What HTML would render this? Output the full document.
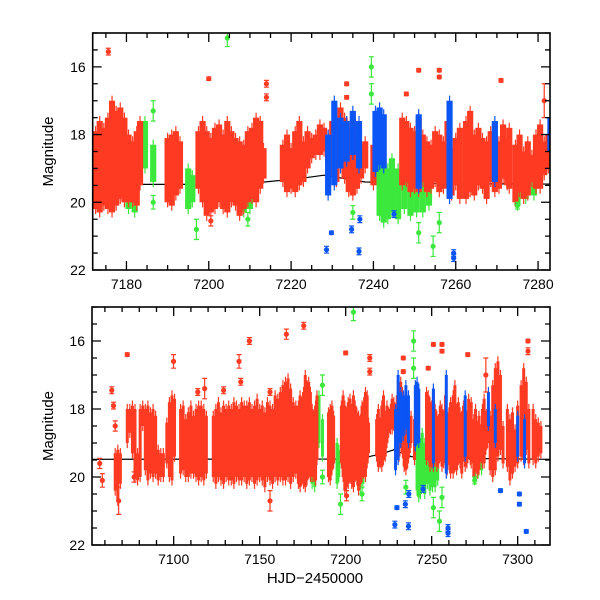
<!DOCTYPE html>
<html><head><meta charset="utf-8"><style>
html,body{margin:0;padding:0;background:#fff}
svg{display:block}
text{font-family:"Liberation Sans",sans-serif;fill:#000}
</style></head><body>
<svg id="chart" width="600" height="600" viewBox="0 0 600 600">
<g id="p1"></g>
<g id="p2"></g>
<text x="315" y="583" font-size="15" text-anchor="middle">HJD−2450000</text>
</svg>
<script>
// Dense clusters: [day, brightest mag, faintest mag]
const redRanges=[[7066,19.3,20.4],[7067.5,19.2,20.7],[7069,19.3,20.2],
[7073,18.0,19.0],[7074.5,18.0,18.7],[7076,17.9,19.3],[7077.5,18.0,20.0],[7079,19.3,20.1],[7080.5,18.0,20.0],[7082,17.9,18.5],[7083.5,18.0,19.8],[7085,17.9,20.1],[7086.5,18.1,19.9],[7088,18.0,20.0],[7089.5,18.2,19.9],[7091,19.2,20.1],[7092.5,19.3,20.0],[7094,19.3,20.0],
[7096,18.4,19.6],[7097.5,17.8,20.0],[7099,17.6,20.1],[7100.5,17.7,19.4],
[7104,18.0,19.9],[7105.5,17.9,19.8],[7107,18.3,20.0],[7108.5,18.1,20.0],[7110,17.9,19.9],[7111.5,18.2,19.9],[7113,18.0,20.0],[7114.5,17.9,20.1],[7116,17.9,20.0],[7117.5,18.0,20.1],[7119,18.2,19.9],
[7123,18.2,20.0],[7124.5,18.0,20.2],[7126,17.8,20.0],[7127.5,18.1,20.1],[7129,17.9,20.2],[7130.5,18.0,20.0],[7132,17.9,20.1],[7133.5,18.0,20.1],[7135,17.8,20.2],[7136.5,17.9,20.0],[7138,18.0,20.1],[7139.5,17.8,20.1],[7141,17.9,20.0],[7142.5,17.9,20.2],[7144,17.8,20.1],[7145.5,18.0,20.0],[7147,17.9,20.2],[7148.5,17.7,20.1],[7150,18.0,20.0],[7151.5,17.9,20.1],[7153,18.1,20.3],[7154.5,17.8,20.0],[7156,17.9,20.1],[7157.5,18.0,20.2],[7159,17.6,20.0],[7160.5,17.7,20.1],[7162,17.5,20.0],[7163.5,17.3,20.1],[7165,17.2,20.1],[7166.5,17.1,20.0],[7168,17.4,20.2],[7169.5,17.8,20.0],[7171,17.9,19.9],
[7172.5,17.9,20.2],[7173.5,17.6,20.3],[7174.5,17.8,20.1],[7175.5,17.5,20.2],[7176.5,17.0,20.3],[7177.5,17.3,20.1],[7178.5,17.2,19.9],[7179.5,17.5,20.0],[7180.5,18.0,20.0],[7181.5,18.2,20.0],[7182.5,17.9,20.1],[7183.3,17.6,19.5],
[7190,18.1,20.0],[7191,18.0,20.1],[7192,17.9,19.8],[7193,18.2,19.6],
[7197.5,17.9,19.6],[7198.5,17.6,20.0],[7199.5,17.9,20.4],[7200.5,18.1,20.3],[7201.5,17.8,20.2],[7202.5,17.7,20.0],[7203.5,18.0,20.2],[7204.5,17.6,20.3],[7205.5,17.9,20.0],[7206.5,18.1,20.1],[7207.5,18.2,20.4],[7208.5,18.3,20.2],[7209.5,17.9,20.0],[7210.5,17.8,19.9],[7211.5,17.5,20.0],[7212.5,17.6,19.6],[7213.3,18.4,19.3],
[7218,18.3,19.4],[7219,18.0,19.7],[7220,18.4,19.6],[7221,17.9,19.7],[7222,17.6,19.5],[7223,18.2,19.4],[7224,17.9,19.0],[7225,18.1,18.7],[7226,18.0,18.6],[7227,17.7,18.6],[7228,17.8,18.5],[7229,18.0,18.9],[7230,17.6,19.2],[7231,17.5,19.4],[7232,17.2,19.0],[7233,17.5,19.3],[7234,17.8,19.7],[7235,17.5,19.8],[7236,18.0,19.6],[7237,18.3,19.3],[7238,18.2,19.0],[7240,18.3,19.5],
[7247,17.5,19.5],[7248,17.6,19.4],[7249,17.8,19.7],[7250,17.9,19.6],[7251,17.5,19.7],[7252,18.0,19.4],[7253,18.2,19.7],[7254,18.3,19.6],[7255,17.9,19.4],[7256,18.0,19.7],[7257,18.2,19.6],[7258,17.6,19.5],[7259,18.4,19.8],[7260,18.1,19.5],[7261,17.8,19.9],
[7262.5,17.6,19.9],[7263.5,17.3,19.7],[7264.5,18.0,19.8],[7265.5,17.8,19.5],[7266.5,18.1,19.6],[7267.5,18.2,19.9],[7268.5,17.9,19.4],[7269.5,18.0,19.7],[7270.5,18.2,19.6],[7271.5,17.7,19.3],[7272.5,18.1,19.5],[7273,17.8,19.6],
[7274.5,18.3,20.0],[7275.5,18.0,19.7],[7276.5,18.5,19.9],[7277.5,18.2,19.8],[7278.5,18.6,19.4],[7279.5,18.0,19.6],[7280.5,17.7,19.6],[7281.5,18.2,19.2],[7282.5,18.0,19.0],
[7284,18.2,19.8],[7285.5,17.3,20.0],[7287,16.8,19.8],[7288.5,16.6,19.4],[7290,17.0,19.2],[7291.5,18.5,19.6],[7294,18.0,19.7],[7295.5,18.3,20.1],[7297,18.1,19.9],[7298.5,18.6,19.7],[7300,17.9,19.6],[7302,17.3,19.4],[7303.5,16.8,19.5],[7305,17.2,19.2],[7306.5,18.0,19.6],[7309,18.0,19.5],[7310.5,18.3,19.6],[7312,18.4,19.4],[7313.5,18.5,19.3]];
const greenRanges=[[7180.5,19.0,20.2],[7182,19.2,20.3],[7184.5,17.6,19.0],[7186.5,18.3,19.4],[7195,19.0,20.2],[7196,19.2,20.0],[7208.5,19.0,20.3],[7210,19.2,20.2],[7241.5,18.8,20.4],[7242.5,18.9,20.6],[7243.5,19.0,20.5],[7244.5,18.7,20.3],[7246,19.0,20.5],[7247.5,19.2,20.2],[7249,19.1,20.4],[7250.5,19.3,20.3],[7252,19.0,20.3],[7253.5,19.1,20.1],[7275,19.0,20.1],[7277,19.1,19.9],[7279,19.2,19.8]];
const blueRanges=[[7229,18.0,19.8],[7230.5,17.0,19.5],[7232,17.5,19.0],[7233.5,17.6,18.8],[7235,17.3,18.6],[7236.5,17.6,19.0],[7240.5,17.3,19.1],[7241.5,17.2,18.9],[7242.5,17.4,19.0],[7251,17.4,19.6],[7258.5,17.0,19.9],[7269.5,17.6,19.4],[7283,17.5,18.5],[7287,18.0,19.0],[7300,18.2,19.4],[7304,18.3,19.6]];
// Individual points: [day, mag, error]
const redPoints=[[7057,19.6,0.15],[7058.5,20.1,0.2],[7064,17.45,0.1],[7065,17.9,0.1],[7066,18.5,0.15],[7068,20.7,0.4],[7073,16.4,0.05],[7077,20.0,0.15],[7099.9,16.6,0.2],[7114,17.5,0.1],[7118,17.4,0.3],[7129,17.45,0.1],[7138,16.6,0.2],[7139,17.2,0.1],[7144,16.0,0.1],[7156,17.5,0.1],[7156,20.7,0.3],[7165.5,15.8,0.15],[7175.6,15.55,0.1],[7200,16.35,0.05],[7200.5,20.55,0.15],[7214,16.5,0.1],[7214,16.9,0.1],[7233.5,16.5,0.05],[7233.5,16.9,0.05],[7248,16.8,0.05],[7251,16.1,0.05],[7256,16.1,0.05],[7256,16.3,0.05],[7271,16.4,0.05],[7281.5,17.0,0.5],[7306,16.0,0.05],[7306,16.3,0.1]];
const greenPoints=[[7204.5,15.15,0.25],[7239.5,16.0,0.3],[7239.5,16.8,0.3],[7235,20.3,0.2],[7254.5,21.3,0.3],[7251,20.9,0.3],[7197,20.8,0.3],[7186.5,17.3,0.3],[7186.5,20.0,0.2],[7209.5,20.5,0.2],[7275,20.1,0.1],[7256,20.6,0.3]];
const bluePoints=[[7228.6,21.4,0.1],[7229.8,20.9,0.05],[7234.7,20.8,0.1],[7236.7,20.5,0.1],[7236.5,21.45,0.1],[7259.5,21.5,0.1],[7259.5,21.65,0.1],[7245,20.35,0.1],[7290,20.4,0.05],[7301,20.5,0.05],[7301,20.8,0.05],[7305,21.6,0.05]];
const modelDays=[7050,7200,7212,7222,7228,7238,7260,7320];
const modelMags=[19.48,19.47,19.42,19.3,19.2,19.4,19.45,19.48];
const yTicks=[16,18,20,22];
const topXTicks=[7180,7200,7220,7240,7260,7280];
const botXTicks=[7100,7150,7200,7250,7300];

const NS='http://www.w3.org/2000/svg';
const RED='#ff3a22',GREEN='#3be83b',BLUE='#0b55f5';
function mk(tag,attrs,parent){const e=document.createElementNS(NS,tag);for(const k in attrs)e.setAttribute(k,attrs[k]);parent.appendChild(e);return e;}

function panel(g,x0,x1,y0,y1,d0,d1,majors,minorStep,name){
  const sx=d=>x0+(d-d0)/(d1-d0)*(x1-x0);
  const sy=m=>y0+(m-15)/7*(y1-y0);
  const clip=name+'-clip';
  const cp=mk('clipPath',{id:clip},g);
  mk('rect',{x:x0,y:y0,width:x1-x0,height:y1-y0},cp);
  const data=mk('g',{'clip-path':'url(#'+clip+')'},g);
  const ppd=(x1-x0)/(d1-d0);
  function ranges(arr,col,sname){
    arr.forEach(r=>{
      const w=Math.max(1.5*ppd,3);
      const bar=mk('line',{x1:sx(r[0]),x2:sx(r[0]),y1:sy(r[1]-0.15),y2:sy(r[2]+0.15),stroke:col,'stroke-width':1.2},data);
      
      
      const e=mk('rect',{x:sx(r[0])-w/2,y:sy(r[1]),width:w,height:sy(r[2])-sy(r[1]),fill:col},data);
      
      
    });
  }
  function points(arr,col,sname){
    arr.forEach(p=>{
      const x=sx(p[0]);
      const l=mk('path',{d:`M${x},${sy(p[1]-p[2])}V${sy(p[1]+p[2])}M${x-2.5},${sy(p[1]-p[2])}h5M${x-2.5},${sy(p[1]+p[2])}h5`,stroke:col,'stroke-width':1.2,fill:'none'},data);
      
      
      const c=mk('circle',{cx:x,cy:sy(p[1]),r:2.6,fill:col},data);
      
      
    });
  }
  const pts=modelDays.map((d,i)=>sx(d)+','+sy(modelMags[i])).join(' ');
  const ml=mk('polyline',{points:pts,fill:'none',stroke:'#000','stroke-width':1.2},data);
  
  
  ranges(greenRanges,GREEN,'green-series');
  ranges(redRanges,RED,'red-series');
  ranges(blueRanges,BLUE,'blue-series');
  points(greenPoints,GREEN,'green-series');
  points(redPoints,RED,'red-series');
  points(bluePoints,BLUE,'blue-series');
  const fr=mk('rect',{x:x0,y:y0,width:x1-x0,height:y1-y0,fill:'none',stroke:'#000','stroke-width':1.6},g);
  
  
  let tk='';
  for(let d=Math.ceil(d0/minorStep)*minorStep;d<=d1;d+=minorStep){
    const x=sx(d);const L=majors.includes(d)?9:5;
    tk+=`M${x},${y1}v${-L}M${x},${y0}v${L}`;
  }
  for(let m=15;m<=22;m+=0.5){
    const y=sy(m);const L=(m%2===0)?9:5;
    tk+=`M${x0},${y}h${L}M${x1},${y}h${-L}`;
  }
  const t=mk('path',{d:tk,stroke:'#000','stroke-width':1.3,fill:'none'},g);
  
  
  majors.forEach(d=>{
    const tx=mk('text',{x:sx(d),y:y1+19,'font-size':14,'text-anchor':'middle'},g);
    tx.textContent=d;
    
    
  });
  yTicks.forEach(m=>{
    const tx=mk('text',{x:x0-7,y:sy(m)+5,'font-size':14,'text-anchor':'end'},g);
    tx.textContent=m;
    
    
  });
  const yt=mk('text',{x:0,y:0,'font-size':15,'text-anchor':'middle',transform:`translate(53,${(y0+y1)/2}) rotate(-90)`},g);
  yt.textContent='Magnitude';
  
  
}
panel(document.getElementById('p1'),92.7,550,33,270,7171.8,7282.9,topXTicks,5,'top');
panel(document.getElementById('p2'),92,550,307,545,7052.5,7318.8,botXTicks,10,'bottom');
</script>
</body></html>
